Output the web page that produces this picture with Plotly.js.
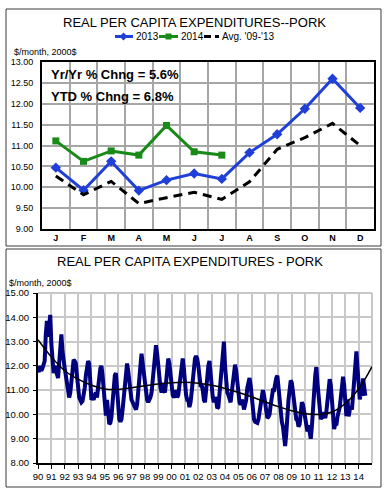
<!DOCTYPE html>
<html>
<head>
<meta charset="utf-8">
<script src="https://cdn.plot.ly/plotly-3.0.1.min.js"></script>
<style>html,body{margin:0;padding:0;background:#fff;}#chart{width:389px;height:491px;}</style>
</head>
<body>
<div id="chart"></div>
<script>
// ---- Top chart data ----
const monthKeys = ['Jan','Feb','Mar','Apr','May','Jun','Jul','Aug','Sep','Oct','Nov','Dec'];
const monthLetters = ['J','F','M','A','M','J','J','A','S','O','N','D'];
const exp2013 = [10.47, 9.93, 10.62, 9.92, 10.17, 10.33, 10.20, 10.83, 11.27, 11.88, 12.60, 11.90];
const exp2014 = [11.11, 10.62, 10.87, 10.77, 11.48, 10.85, 10.77];
const avg0913 = [10.27, 9.82, 10.14, 9.61, 9.75, 9.88, 9.71, 10.13, 10.91, 11.19, 11.53, 11.00];
const topYTicks = [9, 9.5, 10, 10.5, 11, 11.5, 12, 12.5, 13];
const seriesNames = ['2013', '2014', "Avg. '09-'13"];

// ---- Bottom chart data (monthly, by year) ----
const y1990 = [11.85, 11.75, 12.0, 11.8, 11.9, 12.1, 12.2, 13.3, 13.85, 13.2, 14.0, 14.1];
const y1991 = [12.9, 11.9, 11.7, 12.0, 11.8, 11.6, 11.5, 12.1, 12.8, 13.3, 12.6, 12.1];
const y1992 = [11.9, 11.6, 11.3, 11.0, 10.7, 10.9, 11.5, 12.0, 12.25, 12.2, 12.1, 11.6];
const y1993 = [11.0, 10.7, 10.6, 10.5, 10.55, 10.8, 11.1, 11.6, 12.0, 12.2, 12.1, 11.2];
const y1994 = [10.6, 10.7, 10.6, 10.8, 10.9, 10.7, 11.0, 11.5, 11.9, 12.0, 11.6, 10.9];
const y1995 = [10.6, 9.95, 10.6, 9.85, 9.6, 9.65, 9.9, 10.5, 11.2, 11.6, 11.7, 11.0];
const y1996 = [10.3, 9.8, 9.7, 9.8, 10.2, 10.8, 11.4, 11.9, 12.1, 11.8, 11.3, 10.8];
const y1997 = [10.6, 10.5, 10.4, 10.3, 10.2, 10.4, 11.1, 11.7, 12.0, 12.5, 12.1, 11.6];
const y1998 = [11.1, 10.8, 10.6, 10.5, 10.6, 10.7, 10.9, 11.4, 11.9, 12.4, 12.85, 12.5];
const y1999 = [11.9, 11.5, 11.1, 10.9, 11.3, 11.0, 10.9, 11.3, 11.9, 12.3, 12.1, 11.6];
const y2000 = [11.1, 10.8, 10.7, 10.8, 11.0, 10.7, 10.8, 11.2, 11.8, 12.2, 12.3, 11.9];
const y2001 = [11.2, 10.8, 10.6, 10.6, 10.3, 10.5, 10.9, 11.4, 11.9, 12.3, 12.4, 12.3];
const y2002 = [12.0, 11.6, 11.2, 11.2, 11.0, 10.6, 10.5, 11.0, 11.6, 12.0, 12.2, 11.5];
const y2003 = [10.9, 10.7, 10.5, 10.7, 10.6, 10.25, 10.3, 10.8, 11.5, 12.0, 12.4, 13.0];
const y2004 = [12.0, 11.3, 10.9, 10.8, 10.6, 10.5, 10.9, 11.3, 11.8, 12.05, 11.8, 11.2];
const y2005 = [10.9, 10.5, 10.4, 10.6, 10.5, 10.2, 10.4, 10.6, 11.1, 11.4, 11.5, 11.2];
const y2006 = [10.7, 10.1, 9.8, 9.7, 9.65, 9.65, 9.8, 10.1, 10.6, 10.95, 11.0, 10.8];
const y2007 = [10.5, 10.0, 9.85, 9.9, 10.0, 10.4, 10.8, 11.0, 11.0, 11.3, 11.5, 11.6];
const y2008 = [11.0, 10.4, 9.9, 9.7, 9.5, 9.1, 8.7, 9.2, 10.2, 10.6, 11.0, 11.4];
const y2009 = [11.3, 10.9, 10.3, 10.0, 9.8, 9.75, 9.5, 9.6, 10.1, 10.5, 10.4, 10.1];
const y2010 = [9.7, 9.4, 9.3, 9.55, 9.2, 9.0, 9.5, 10.0, 10.9, 11.6, 11.95, 11.3];
const y2011 = [10.6, 10.0, 9.8, 9.9, 9.85, 10.1, 9.85, 10.1, 10.5, 11.1, 11.45, 11.2];
const y2012 = [10.6, 9.9, 9.4, 9.6, 9.55, 9.9, 10.1, 10.3, 10.7, 11.1, 11.55, 11.2];
const yearlySeries = [y1990,y1991,y1992,y1993,y1994,y1995,y1996,y1997,y1998,y1999,y2000,y2001,
  y2002,y2003,y2004,y2005,y2006,y2007,y2008,y2009,y2010,y2011,y2012,exp2013,exp2014];
const firstYear = 1990;

const trendYears = [1990,1991,1992,1993,1994,1995,1996,1997,1998,1999,2000,2001,2002,2003,2004,2005,2006,2007,2008,2009,2010,2011,2012,2013,2014,2015];
const trendValues = [13.08,12.37,11.8,11.45,11.2,11.05,11.03,11.1,11.18,11.25,11.3,11.32,11.28,11.2,11.07,10.9,10.72,10.52,10.32,10.15,10.03,10.0,10.1,10.45,11.05,11.97];
const yearTickVals = [1990,1991,1992,1993,1994,1995,1996,1997,1998,1999,2000,2001,2002,2003,2004,2005,2006,2007,2008,2009,2010,2011,2012,2013,2014];
const yearTickText = ['90','91','92','93','94','95','96','97','98','99','00','01','02','03','04','05','06','07','08','09','10','11','12','13','14'];

// build monthly x/y
const bx = [], by = [];
yearlySeries.forEach((arr, i) => {
  arr.forEach((v, m) => { bx.push(firstYear + i + m / 12); by.push(v); });
});

const FONT = 'Liberation Sans, Arial, sans-serif';
const W = 389, H = 491;
const px = v => v / W;
const py = v => 1 - v / H;
const C2013 = '#1F3FD8', C2014 = '#178A17', CAVG = '#000000';

const traces = [
  {x: monthKeys, y: exp2013, type: 'scatter', mode: 'lines+markers', name: seriesNames[0], showlegend: false,
   line: {color: C2013, width: 3}, marker: {symbol: 'diamond', size: 8, color: C2013},
   xaxis: 'x', yaxis: 'y'},
  {x: monthKeys.slice(0, exp2014.length), y: exp2014, type: 'scatter', mode: 'lines+markers', name: seriesNames[1], showlegend: false,
   line: {color: C2014, width: 3}, marker: {symbol: 'square', size: 7, color: C2014},
   xaxis: 'x', yaxis: 'y'},
  {x: monthKeys, y: avg0913, type: 'scatter', mode: 'lines', name: seriesNames[2], showlegend: false,
   line: {color: CAVG, width: 3, dash: '9px,6px'}, xaxis: 'x', yaxis: 'y'},
  {x: bx, y: by, type: 'scatter', mode: 'lines', showlegend: false,
   line: {color: '#00007F', width: 4}, xaxis: 'x2', yaxis: 'y2'},
  {x: trendYears, y: trendValues, type: 'scatter', mode: 'lines', showlegend: false,
   line: {color: '#000', width: 1.5, shape: 'spline', smoothing: 1}, xaxis: 'x2', yaxis: 'y2'}
];

// custom compact legend (symbols as paper shapes, labels as text)
const LY = 36.5;
function diamondPath(cx, cy, r) {
  return 'M' + px(cx - r) + ',' + py(cy) + ' L' + px(cx) + ',' + py(cy - r) + ' L' + px(cx + r) + ',' + py(cy) +
         ' L' + px(cx) + ',' + py(cy + r) + ' Z';
}
const legendShapes = [
  {type: 'line', xref: 'paper', yref: 'paper', x0: px(115), x1: px(133), y0: py(LY), y1: py(LY), line: {color: C2013, width: 3}},
  {type: 'path', xref: 'paper', yref: 'paper', path: diamondPath(123.5, LY, 4), fillcolor: C2013, line: {color: C2013, width: 0}},
  {type: 'line', xref: 'paper', yref: 'paper', x0: px(159), x1: px(178), y0: py(LY), y1: py(LY), line: {color: C2014, width: 3}},
  {type: 'rect', xref: 'paper', yref: 'paper', x0: px(165.5), x1: px(171.5), y0: py(LY + 3), y1: py(LY - 3), fillcolor: C2014, line: {color: C2014, width: 0}},
  {type: 'line', xref: 'paper', yref: 'paper', x0: px(204), x1: px(219), y0: py(LY), y1: py(LY), line: {color: CAVG, width: 3, dash: '7px,4px'}}
];
const legendTexts = [
  {text: seriesNames[0], x: px(133.5)}, {text: seriesNames[1], x: px(179)}, {text: seriesNames[2], x: px(219.5)}
].map(t => ({text: t.text, xref: 'paper', yref: 'paper', x: t.x, y: py(LY), xanchor: 'left', yanchor: 'middle',
             showarrow: false, font: {size: 10, family: FONT}}));

const layout = {
  width: W, height: H, autosize: false,
  margin: {l: 0, r: 0, t: 0, b: 0},
  paper_bgcolor: '#fff', plot_bgcolor: '#fff',
  font: {family: FONT, color: '#000', size: 9},
  showlegend: false,
  xaxis: {domain: [px(42), px(374)], type: 'category', tickson: 'boundaries',
          tickmode: 'array', tickvals: monthKeys, ticktext: monthLetters,
          range: [-0.5, 11.5], showgrid: true, gridcolor: '#A6A6A6', gridwidth: 2,
          showline: true, linecolor: '#000', linewidth: 2, mirror: true, ticks: '', ticklen: 0,
          tickfont: {size: 9, family: FONT, weight: 'bold'}, ticklabelstandoff: -1,
          anchor: 'y', fixedrange: true},
  yaxis: {domain: [py(229), py(62)], range: [9, 13], tickmode: 'array', tickvals: topYTicks,
          tickformat: '.2f', showgrid: true, gridcolor: '#A6A6A6', gridwidth: 2,
          showline: true, linecolor: '#000', linewidth: 2, mirror: true, ticks: '',
          tickfont: {size: 9, family: FONT}, ticklabelstandoff: 5, zeroline: false,
          anchor: 'x', fixedrange: true},
  xaxis2: {domain: [px(38), px(372)], range: [1990, 2015], tickmode: 'array',
           tickvals: yearTickVals, ticktext: yearTickText,
           showgrid: true, gridcolor: '#C8C8C8', gridwidth: 2,
           showline: true, linecolor: '#000', linewidth: 2, ticks: 'outside', ticklen: 4,
           tickcolor: '#000', tickwidth: 1, tickfont: {size: 9.5, family: FONT},
           zeroline: false, anchor: 'y2', fixedrange: true},
  yaxis2: {domain: [py(463), py(293)], range: [8, 15], dtick: 1, tick0: 8, tickformat: '.2f',
           showgrid: true, gridcolor: '#C8C8C8', gridwidth: 2,
           showline: true, linecolor: '#000', linewidth: 2, ticks: 'outside', ticklen: 3,
           tickcolor: '#000', tickfont: {size: 9.5, family: FONT}, ticklabelstandoff: 2,
           zeroline: false, anchor: 'x2', fixedrange: true},
  shapes: [
    {type: 'rect', xref: 'paper', yref: 'paper', x0: px(6), x1: px(381), y0: py(246), y1: py(9),
     line: {color: '#3a3a3a', width: 1}, layer: 'below'},
    {type: 'rect', xref: 'paper', yref: 'paper', x0: px(6), x1: px(381), y0: py(487), y1: py(249),
     line: {color: '#3a3a3a', width: 1}, layer: 'below'},
    {type: 'line', xref: 'paper', yref: 'paper', x0: px(38), x1: px(372), y0: py(293), y1: py(293),
     line: {color: '#C8C8C8', width: 2}, layer: 'below'},
    {type: 'line', xref: 'paper', yref: 'paper', x0: px(372), x1: px(372), y0: py(463), y1: py(293),
     line: {color: '#C8C8C8', width: 2}, layer: 'below'}
  ].concat(legendShapes),
  annotations: [
    {text: 'REAL PER CAPITA EXPENDITURES--PORK', xref: 'paper', yref: 'paper', x: px(194), y: py(22),
     xanchor: 'center', yanchor: 'middle', showarrow: false, font: {size: 13, family: FONT}},
    {text: '$/month, 2000$', xref: 'paper', yref: 'paper', x: px(12), y: py(52),
     xanchor: 'left', yanchor: 'middle', showarrow: false, font: {size: 9, family: FONT}},
    {text: '<b>Yr/Yr % Chng = 5.6%</b>', xref: 'paper', yref: 'paper', x: px(49), y: py(75),
     xanchor: 'left', yanchor: 'middle', showarrow: false, font: {size: 13, family: FONT}},
    {text: '<b>YTD % Chng = 6.8%</b>', xref: 'paper', yref: 'paper', x: px(49), y: py(96),
     xanchor: 'left', yanchor: 'middle', showarrow: false, font: {size: 13, family: FONT}},
    {text: 'REAL PER CAPITA EXPENDITURES - PORK', xref: 'paper', yref: 'paper', x: px(190), y: py(261),
     xanchor: 'center', yanchor: 'middle', showarrow: false, font: {size: 13, family: FONT}},
    {text: '$/month, 2000$', xref: 'paper', yref: 'paper', x: px(7), y: py(283),
     xanchor: 'left', yanchor: 'middle', showarrow: false, font: {size: 9, family: FONT}}
  ].concat(legendTexts)
};

Plotly.newPlot('chart', traces, layout, {displayModeBar: false, staticPlot: true});
</script>
</body>
</html>
